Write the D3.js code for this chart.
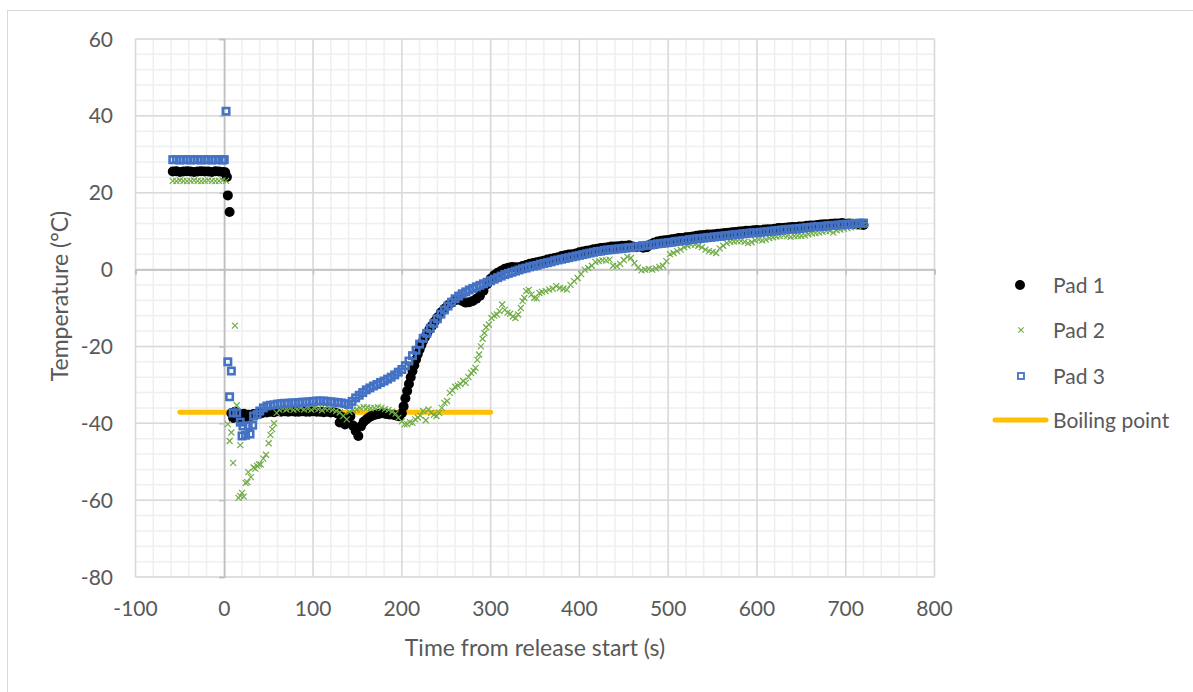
<!DOCTYPE html>
<html>
<head>
<meta charset="utf-8">
<script src="https://cdn.jsdelivr.net/npm/d3@7"></script>
<style>
  body { margin: 0; background: #fff; }
  text { font-family: Lato, "Open Sans", sans-serif; fill: #595959; }
</style>
</head>
<body>
<svg id="chart"></svg>
<script>
// tick labels
var xTicks = [-100, 0, 100, 200, 300, 400, 500, 600, 700, 800];
var yTicks = [-80, -60, -40, -20, 0, 20, 40, 60];

var seriesNames = ["Pad 1", "Pad 2", "Pad 3", "Boiling point"];

// boiling point line [time, temp]
var boiling = [[-50, -37.1], [300, -37.1]];

// Pad 1 [time (s), temperature (°C)]
var pad1 = [
  [-58,25.5],[-54,25.6],[-50,25.4],[-46,25.5],[-42,25.6],[-38,25.5],[-34,25.4],[-30,25.5],[-26,25.6],
  [-22,25.5],[-18,25.5],[-14,25.4],[-10,25.6],[-6,25.5],[-2,25.4],[1,25.3],[3,24.1],[4,19.3],[6,15.0],
  [8,-37.4],[10,-38.6],[12,-37.0],[14,-38.2],[16,-37.6],[18,-38.8],[20,-38.2],[22,-37.5],[24,-38.4],
  [27,-37.8],[30,-38.1],[33,-37.6],[36,-37.8],[39,-37.3],[42,-37.4],[45,-37.1],[48,-37.2],[52,-37.0],
  [56,-37.1],[60,-36.9],[64,-37.0],[68,-36.9],[72,-37.0],[76,-36.9],[80,-37.0],[84,-37.0],[88,-36.9],
  [92,-37.0],[96,-37.0],[100,-36.9],[104,-37.0],[108,-37.0],[112,-37.1],[116,-37.0],[120,-37.2],
  [124,-37.1],[128,-37.5],[130,-39.8],[133,-38.4],[136,-40.3],[139,-39.0],[142,-38.2],[145,-40.6],
  [148,-42.0],[151,-43.3],[154,-40.8],[157,-39.6],[160,-39.0],[163,-38.5],[166,-38.1],[170,-37.8],
  [174,-37.6],[178,-37.4],[182,-37.6],[186,-37.7],[190,-37.8],[194,-38.0],[197,-38.2],[200,-37.4],
  [202,-35.6],[204,-33.5],[206,-31.6],[208,-29.8],[210,-28.0],[212,-26.4],[214,-24.9],[216,-23.4],
  [218,-22.0],[220,-20.8],[222,-19.6],[224,-18.5],[226,-17.6],[228,-16.8],[231,-15.6],[234,-14.6],
  [237,-13.5],[240,-12.5],[244,-11.2],[248,-10.2],[252,-9.3],[256,-8.6],[260,-8.0],[264,-7.8],
  [268,-8.2],[272,-8.6],[276,-8.5],[280,-8.2],[284,-7.6],[288,-6.8],[292,-5.5],[296,-3.8],[300,-2.4],
  [304,-1.5],[308,-0.8],[312,-0.3],[316,0.2],[320,0.5],[324,0.7],[328,0.6],[332,0.6],[336,0.9],
  [340,1.2],[344,1.5],[348,1.7],[352,1.9],[356,2.1],[360,2.3],[364,2.6],[368,2.8],[372,3.0],[376,3.2],
  [380,3.5],[384,3.7],[388,3.9],[392,4.0],[396,4.2],[400,4.5],[404,4.7],[408,4.9],[412,5.0],[416,5.3],
  [420,5.4],[424,5.6],[428,5.7],[432,5.8],[436,6.0],[440,6.0],[444,6.1],[448,6.2],[452,6.2],[456,6.3],
  [460,6.0],[464,5.8],[468,6.0],[472,5.7],[476,5.8],[480,6.5],[484,7.0],[488,7.3],[492,7.5],[496,7.6],
  [500,7.7],[504,7.9],[508,8.0],[512,8.2],[516,8.2],[520,8.4],[524,8.5],[528,8.6],[532,8.8],[536,8.9],
  [540,9.0],[544,9.1],[548,9.1],[552,9.2],[556,9.3],[560,9.4],[564,9.5],[568,9.6],[572,9.7],[576,9.8],
  [580,9.9],[584,10.0],[588,10.1],[592,10.1],[596,10.2],[600,10.3],[604,10.2],[608,10.4],[612,10.5],
  [616,10.5],[620,10.6],[624,10.8],[628,10.8],[632,10.9],[636,11.0],[640,11.1],[644,11.1],[648,11.2],
  [652,11.2],[656,11.4],[660,11.5],[664,11.5],[668,11.6],[672,11.7],[676,11.8],[680,11.8],[684,11.9],
  [688,12.0],[692,12.0],[696,12.1],[700,11.9],[704,12.0],[708,11.9],[712,11.8],[716,11.7],[720,11.6]
];

// Pad 2
var pad2 = [
  [-58,23.1],[-54,23.0],[-50,23.2],[-46,23.1],[-42,23.0],[-38,23.1],[-34,23.2],[-30,23.1],[-26,23.0],
  [-22,23.1],[-18,23.2],[-14,23.1],[-10,23.0],[-6,23.1],[-2,23.2],[2,23.1],
  [4,-40.2],[6,-44.6],[8,-42.4],[10,-50.3],[12,-14.6],[14,-35.3],[16,-59.4],[18,-45.7],[18,-58.9],
  [20,-58.1],[22,-59.1],[24,-55.5],[26,-55.3],[27,-52.7],[30,-54.0],[33,-51.5],[35,-51.8],[37,-51.1],
  [39,-50.7],[41,-50.7],[44,-49.2],[47,-48.2],[50,-45.2],[52,-43.0],[54,-41.5],[56,-40.0],[59,-37.3],
  [62,-36.5],[66,-36.2],[70,-36.4],[74,-36.1],[78,-36.5],[82,-36.3],[86,-36.0],[90,-36.4],[94,-36.2],
  [98,-36.5],[102,-36.1],[106,-36.3],[110,-36.6],[114,-36.2],[118,-36.2],[122,-36.5],[126,-36.8],
  [130,-37.2],[134,-38.1],[138,-39.0],[141,-37.0],[145,-36.5],[149,-36.4],[153,-36.0],[157,-35.8],
  [161,-35.9],[165,-36.1],[169,-36.0],[173,-35.8],[177,-36.0],[181,-36.3],[185,-36.5],[189,-37.0],
  [193,-37.5],[196,-38.6],[200,-39.5],[203,-40.3],[206,-40.2],[209,-39.7],[212,-39.9],[215,-39.0],
  [218,-38.5],[221,-38.0],[224,-36.8],[227,-39.2],[230,-36.4],[233,-37.3],[236,-37.8],[239,-38.1],
  [242,-37.3],[245,-36.0],[248,-34.7],[251,-34.2],[254,-32.1],[257,-31.5],[260,-30.5],[263,-30.2],
  [266,-29.8],[269,-29.0],[272,-29.5],[275,-28.0],[278,-26.9],[281,-26.4],[283,-25.6],[285,-23.5],
  [287,-22.1],[289,-20.0],[291,-18.0],[293,-16.5],[295,-15.0],[298,-14.3],[301,-12.6],[304,-12.0],
  [307,-11.7],[310,-10.8],[313,-9.1],[316,-10.5],[319,-11.2],[322,-11.5],[325,-12.2],[328,-12.6],
  [331,-11.7],[334,-10.0],[336,-8.2],[338,-7.4],[340,-5.6],[343,-5.3],[346,-6.5],[349,-7.4],[352,-7.5],
  [355,-6.1],[358,-5.8],[362,-5.6],[366,-5.2],[370,-5.0],[374,-4.3],[378,-4.8],[382,-5.0],[386,-5.2],
  [390,-4.0],[394,-3.0],[398,-2.2],[402,-1.2],[406,0.0],[410,0.4],[414,1.0],[418,2.0],[422,2.2],
  [426,2.4],[430,2.4],[434,2.6],[438,1.0],[442,0.9],[446,1.5],[450,2.5],[454,3.3],[458,3.0],[462,1.7],
  [466,0.5],[470,-0.2],[474,0.0],[478,0.2],[482,0.0],[486,0.3],[490,0.7],[494,1.0],[498,2.2],[502,4.0],
  [506,4.3],[510,4.8],[514,5.2],[518,5.8],[522,6.2],[526,6.5],[530,6.5],[534,6.2],[538,5.8],[542,5.2],
  [546,4.8],[550,4.6],[554,4.3],[558,5.5],[562,6.2],[566,6.9],[570,7.2],[574,7.3],[578,7.4],[582,7.4],
  [586,7.2],[590,6.9],[594,7.1],[598,7.6],[602,7.8],[606,7.6],[610,7.8],[614,8.2],[618,8.4],[622,8.6],
  [626,8.7],[630,8.9],[634,8.7],[638,8.5],[642,8.7],[646,8.8],[650,8.8],[654,8.9],[658,9.2],[662,9.4],
  [666,9.5],[670,9.6],[674,9.8],[678,10.0],[682,10.1],[686,9.6],[690,10.2],[694,10.4],[698,10.6],
  [702,10.8],[706,11.0],[710,11.1],[714,11.3],[718,11.6],[720,11.7]
];

// Pad 3
var pad3 = [
  [-58,28.6],[-54,28.6],[-50,28.5],[-46,28.6],[-42,28.6],[-38,28.5],[-34,28.6],[-30,28.6],[-26,28.5],
  [-22,28.6],[-18,28.6],[-14,28.5],[-10,28.6],[-6,28.6],[-2,28.5],[0,28.6],[2,41.2],
  [4,-24.0],[6,-33.1],[8,-26.4],[10,-37.3],[14,-37.3],[18,-39.7],[20,-43.3],[21,-40.7],[24,-43.1],
  [27,-40.7],[29,-42.8],[32,-40.5],[33,-38.1],[37,-37.7],[40,-36.8],[44,-36.0],
  [48,-35.5],[52,-35.3],[56,-35.2],[60,-35.0],[64,-34.9],[68,-34.8],[72,-34.8],[76,-34.7],[80,-34.7],
  [84,-34.6],[88,-34.5],[92,-34.5],[96,-34.4],[100,-34.3],[104,-34.2],[108,-34.2],[112,-34.2],
  [116,-34.3],[120,-34.4],[124,-34.5],[128,-34.6],[132,-34.7],[136,-34.9],[140,-35.1],[144,-34.3],
  [148,-33.4],[152,-32.7],[156,-32.0],[160,-31.3],[164,-30.8],[168,-30.3],[172,-29.9],[176,-29.4],
  [180,-29.0],[184,-28.5],[188,-28.0],[192,-27.4],[196,-26.7],[200,-26.0],[204,-25.0],[208,-23.8],
  [212,-22.4],[216,-21.0],[220,-19.4],[224,-17.9],[228,-16.6],[232,-15.3],[236,-14.0],[240,-12.8],
  [244,-11.6],[248,-10.5],[252,-9.5],[256,-8.5],[260,-7.6],[264,-6.9],[268,-6.3],[272,-5.8],[276,-5.3],
  [280,-4.9],[284,-4.5],[288,-4.1],[292,-3.7],[296,-3.3],[300,-2.9],[304,-2.5],[308,-2.1],[312,-1.7],
  [316,-1.3],[320,-1.0],[324,-0.7],[328,-0.4],[332,-0.1],[336,0.2],[340,0.4],[344,0.7],[348,0.9],
  [352,1.1],[356,1.4],[360,1.6],[364,1.8],[368,2.0],[372,2.3],[376,2.5],[380,2.7],[384,2.9],[388,3.1],
  [392,3.3],[396,3.5],[400,3.7],[404,3.9],[408,4.1],[412,4.3],[416,4.5],[420,4.7],[424,4.8],[428,5.0],
  [432,5.1],[436,5.2],[440,5.3],[444,5.4],[448,5.5],[452,5.6],[456,5.7],[460,5.8],[464,5.9],[468,6.0],
  [472,6.2],[476,6.3],[480,6.4],[484,6.5],[488,6.7],[492,6.8],[496,6.9],[500,7.0],[504,7.1],[508,7.3],
  [512,7.4],[516,7.5],[520,7.6],[524,7.8],[528,7.9],[532,8.0],[536,8.1],[540,8.2],[544,8.3],[548,8.4],
  [552,8.5],[556,8.6],[560,8.7],[564,8.8],[568,8.9],[572,9.0],[576,9.1],[580,9.2],[584,9.3],[588,9.4],
  [592,9.5],[596,9.6],[600,9.6],[604,9.7],[608,9.8],[612,9.9],[616,10.0],[620,10.1],[624,10.2],
  [628,10.3],[632,10.4],[636,10.5],[640,10.5],[644,10.6],[648,10.7],[652,10.8],[656,10.9],[660,11.0],
  [664,11.1],[668,11.2],[672,11.2],[676,11.3],[680,11.4],[684,11.5],[688,11.5],[692,11.6],[696,11.7],
  [700,11.8],[704,11.8],[708,11.9],[712,12.0],[716,12.1],[720,12.1]
];

var width = 1193,
    height = 692;

var svg = d3.select("#chart")
    .attr("width", width)
    .attr("height", height);

// chart area border (only top/left edges fall inside the picture)
svg.append("rect")
  .attr("x", 7.5).attr("y", 10.5)
  .attr("width", 1300).attr("height", 800)
  .attr("fill", "#fff")
  .attr("stroke", "#d9d9d9")
  .attr("stroke-width", 1);

var x = d3.scaleLinear().domain([-100, 800]).range([135.5, 934.5]);
var y = d3.scaleLinear().domain([-80, 60]).range([577, 39]);

// minor grid
var grid = svg.append("g");
grid.selectAll(".vminor")
  .data(d3.range(-100, 801, 20))
  .enter().append("line")
    .attr("x1", d => x(d)).attr("x2", d => x(d))
    .attr("y1", y(60)).attr("y2", y(-80))
    .attr("stroke", "#efefef").attr("stroke-width", 1.5);
grid.selectAll(".hminor")
  .data(d3.range(-80, 61, 4))
  .enter().append("line")
    .attr("x1", x(-100)).attr("x2", x(800))
    .attr("y1", d => y(d)).attr("y2", d => y(d))
    .attr("stroke", "#efefef").attr("stroke-width", 1.5);
// major grid
grid.selectAll(".vmajor")
  .data(xTicks)
  .enter().append("line")
    .attr("x1", d => x(d)).attr("x2", d => x(d))
    .attr("y1", y(60)).attr("y2", y(-80))
    .attr("stroke", "#d9d9d9").attr("stroke-width", 1.5);
grid.selectAll(".hmajor")
  .data(yTicks)
  .enter().append("line")
    .attr("x1", x(-100)).attr("x2", x(800))
    .attr("y1", d => y(d)).attr("y2", d => y(d))
    .attr("stroke", "#d9d9d9").attr("stroke-width", 1.5);

// axes crossing at zero
var xAxis = d3.axisBottom(x).tickValues(xTicks).tickSize(5).tickFormat("");
svg.append("g")
  .attr("transform", "translate(0," + y(0) + ")")
  .call(xAxis)
  .call(g => g.selectAll("path,line").attr("stroke", "#bfbfbf").attr("stroke-width", 1.5));
var yAxis = d3.axisLeft(y).tickValues(yTicks).tickSize(5).tickFormat("");
svg.append("g")
  .attr("transform", "translate(" + x(0) + ",0)")
  .call(yAxis)
  .call(g => g.selectAll("path,line").attr("stroke", "#bfbfbf").attr("stroke-width", 1.5));

// tick labels (low position)
svg.append("g").selectAll("text")
  .data(xTicks)
  .enter().append("text")
    .attr("x", d => x(d))
    .attr("y", 616)
    .attr("text-anchor", "middle")
    .style("font-size", "21px")
    .text(d => d);
svg.append("g").selectAll("text")
  .data(yTicks)
  .enter().append("text")
    .attr("x", 113)
    .attr("y", d => y(d))
    .attr("dy", "0.36em")
    .attr("text-anchor", "end")
    .style("font-size", "21px")
    .text(d => d);

// axis titles
svg.append("text")
  .attr("x", 535).attr("y", 656)
  .attr("text-anchor", "middle")
  .style("font-size", "23px")
  .text("Time from release start (s)");
svg.append("text")
  .attr("transform", "translate(68,296) rotate(-90)")
  .attr("text-anchor", "middle")
  .style("font-size", "23px")
  .text("Temperature (°C)");

var plot = svg.append("g");

// boiling point line
plot.append("path")
  .datum(boiling)
  .attr("d", d3.line().x(d => x(d[0])).y(d => y(d[1])))
  .attr("fill", "none")
  .attr("stroke", "#ffc000")
  .attr("stroke-width", 5)
  .attr("stroke-linecap", "round");

// Pad 1
plot.append("g").selectAll("circle")
  .data(pad1)
  .enter().append("circle")
    .attr("cx", d => x(d[0]))
    .attr("cy", d => y(d[1]))
    .attr("r", 5)
    .attr("fill", "#000");

// Pad 2
function cross(cx, cy, s) {
  return "M" + (cx - s) + "," + (cy - s) + "L" + (cx + s) + "," + (cy + s) +
         "M" + (cx - s) + "," + (cy + s) + "L" + (cx + s) + "," + (cy - s);
}
plot.append("g").selectAll("path")
  .data(pad2)
  .enter().append("path")
    .attr("d", d => cross(x(d[0]), y(d[1]), 3))
    .attr("stroke", "#70ad47")
    .attr("stroke-width", 1.2)
    .attr("fill", "none");

// Pad 3
plot.append("g").selectAll("rect")
  .data(pad3)
  .enter().append("rect")
    .attr("x", d => x(d[0]) - 3.2)
    .attr("y", d => y(d[1]) - 3.2)
    .attr("width", 6.4)
    .attr("height", 6.4)
    .attr("fill", "none")
    .attr("stroke", "#4472c4")
    .attr("stroke-width", 2.6);

// legend
var legend = svg.append("g");
var legendY = [285, 330, 376, 420];
legend.append("circle").attr("cx", 1020).attr("cy", legendY[0]).attr("r", 5).attr("fill", "#000");
legend.append("path").attr("d", cross(1021, legendY[1], 2.7))
  .attr("stroke", "#70ad47").attr("stroke-width", 1.1).attr("fill", "none");
legend.append("rect").attr("x", 1018).attr("y", legendY[2] - 3).attr("width", 6).attr("height", 6)
  .attr("fill", "none").attr("stroke", "#4472c4").attr("stroke-width", 1.8);
legend.append("line").attr("x1", 995).attr("x2", 1046).attr("y1", legendY[3]).attr("y2", legendY[3])
  .attr("stroke", "#ffc000").attr("stroke-width", 5).attr("stroke-linecap", "round");
legend.selectAll(".ltext")
  .data(seriesNames)
  .enter().append("text")
    .attr("x", 1053)
    .attr("y", (d, i) => legendY[i])
    .attr("dy", "0.36em")
    .style("font-size", "21px")
    .text(d => d);
</script>
</body>
</html>
